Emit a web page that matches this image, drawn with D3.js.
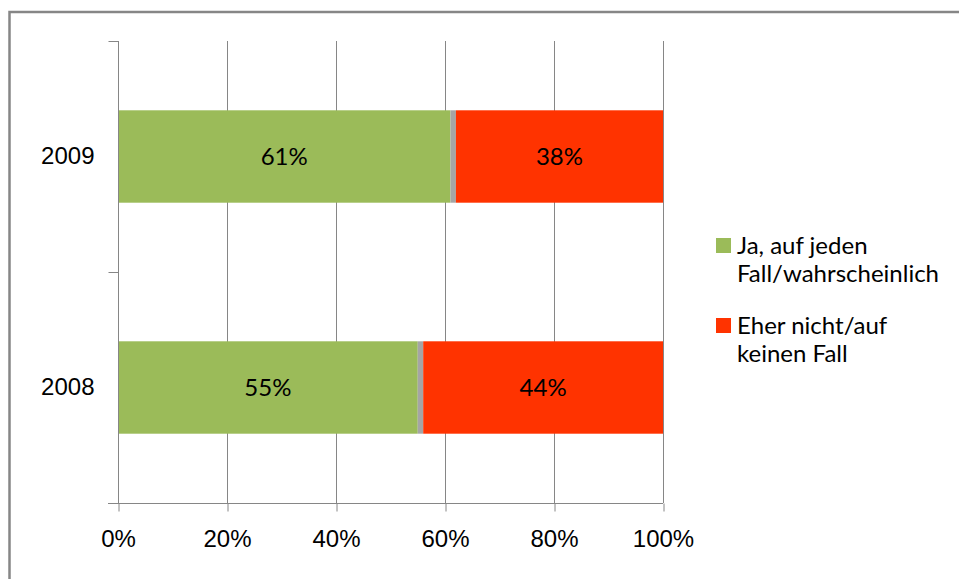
<!DOCTYPE html>
<html>
<head>
<meta charset="utf-8">
<script src="https://cdn.jsdelivr.net/npm/d3@7"></script>
<style>
  body { margin: 0; background: #fff; }
  svg { font-family: Lato, "Open Sans", sans-serif; }
  .axis path, .axis line { stroke: #868686; }
</style>
</head>
<body>
<svg id="chart" width="959" height="579"></svg>
<script>
const years = ['2009', '2008'];
const jaValues = [61, 55];
const unknownValues = [1, 1];
const neinValues = [38, 44];
const seriesNames = ['Ja, auf jeden Fall/wahrscheinlich', 'weiß nicht', 'Eher nicht/auf keinen Fall'];
const xTicks = [0, 20, 40, 60, 80, 100];

const colors = ['#9bbb59', '#a5a5a5', '#ff3300'];
const fontSize = '24px';

const svg = d3.select('#chart');

// outer frame (cut off on the right and bottom)
svg.append('rect')
  .attr('x', 9.5).attr('y', 12)
  .attr('width', 1000).attr('height', 1000)
  .attr('fill', 'none')
  .attr('stroke', '#868686')
  .attr('stroke-width', 2.5);

const x = d3.scaleLinear().domain([0, 100]).range([118, 663]);
const y = d3.scaleBand().domain(years).range([41, 503]).paddingInner(0.6).paddingOuter(0.3);

// gridlines
svg.append('g')
  .selectAll('line')
  .data(xTicks.slice(1))
  .join('line')
  .attr('x1', d => x(d) + 0.5).attr('x2', d => x(d) + 0.5)
  .attr('y1', 41).attr('y2', 503)
  .attr('stroke', '#868686')
  .attr('stroke-width', 1);

// stacked bars
const rows = years.map((yr, i) => ({ year: yr, ja: jaValues[i], unknown: unknownValues[i], nein: neinValues[i] }));
const stack = d3.stack().keys(['ja', 'unknown', 'nein']);
const layers = stack(rows);

const layerG = svg.append('g')
  .selectAll('g')
  .data(layers)
  .join('g')
  .attr('fill', (d, i) => colors[i]);

layerG.selectAll('rect')
  .data(d => d)
  .join('rect')
  .attr('x', d => x(d[0]))
  .attr('width', d => x(d[1]) - x(d[0]))
  .attr('y', d => y(d.data.year))
  .attr('height', y.bandwidth());

// data labels (not for the small grey segment)
layerG.filter((d, i) => i !== 1)
  .selectAll('text')
  .data(d => d)
  .join('text')
  .attr('x', d => (x(d[0]) + x(d[1])) / 2)
  .attr('y', d => y(d.data.year) + y.bandwidth() / 2)
  .attr('dy', '0.36em')
  .attr('text-anchor', 'middle')
  .attr('fill', '#000')
  .style('font-size', fontSize)
  .text(d => `${d[1] - d[0]}%`);

// x axis
const xAxis = svg.append('g')
  .attr('class', 'axis')
  .attr('transform', 'translate(0,503.5)')
  .call(d3.axisBottom(x).tickValues(xTicks).tickSize(8).tickSizeOuter(0).tickPadding(18).tickFormat(d => d + '%'));
xAxis.select('.domain').attr('d', `M108,0H${x(100)}`);
xAxis.selectAll('.tick line').attr('transform', 'translate(0.5,0)');
xAxis.selectAll('text').style('font-size', fontSize).attr('fill', '#000');

// y axis: line, labels and ticks at category boundaries
const yAxis = svg.append('g')
  .attr('class', 'axis')
  .attr('transform', 'translate(118.5,0)')
  .call(d3.axisLeft(y).tickSize(0).tickPadding(24));
yAxis.selectAll('text').style('font-size', fontSize).attr('fill', '#000');
yAxis.select('.domain').attr('d', 'M0,41V503');

const bounds = [y.range()[0]].concat(years.map(yr => y(yr) + y.bandwidth() / 2 + y.step() / 2));
yAxis.selectAll('.bound')
  .data(bounds)
  .join('line')
  .attr('class', 'bound')
  .attr('x1', -10).attr('x2', 0)
  .attr('y1', d => Math.round(d) + 0.5).attr('y2', d => Math.round(d) + 0.5);

// legend
const legendItems = [
  { lines: ['Ja, auf jeden', 'Fall/wahrscheinlich'], color: colors[0], y: 238 },
  { lines: ['Eher nicht/auf', 'keinen Fall'], color: colors[2], y: 318 }
];
const legend = svg.append('g');
const item = legend.selectAll('g')
  .data(legendItems)
  .join('g')
  .attr('transform', d => `translate(716,${d.y})`);
item.append('rect')
  .attr('width', 15).attr('height', 15)
  .attr('fill', d => d.color);
item.append('text')
  .style('font-size', fontSize)
  .attr('fill', '#000')
  .selectAll('tspan')
  .data(d => d.lines)
  .join('tspan')
  .attr('x', 21)
  .attr('y', (d, i) => 16 + i * 28)
  .text(d => d);
</script>
</body>
</html>
